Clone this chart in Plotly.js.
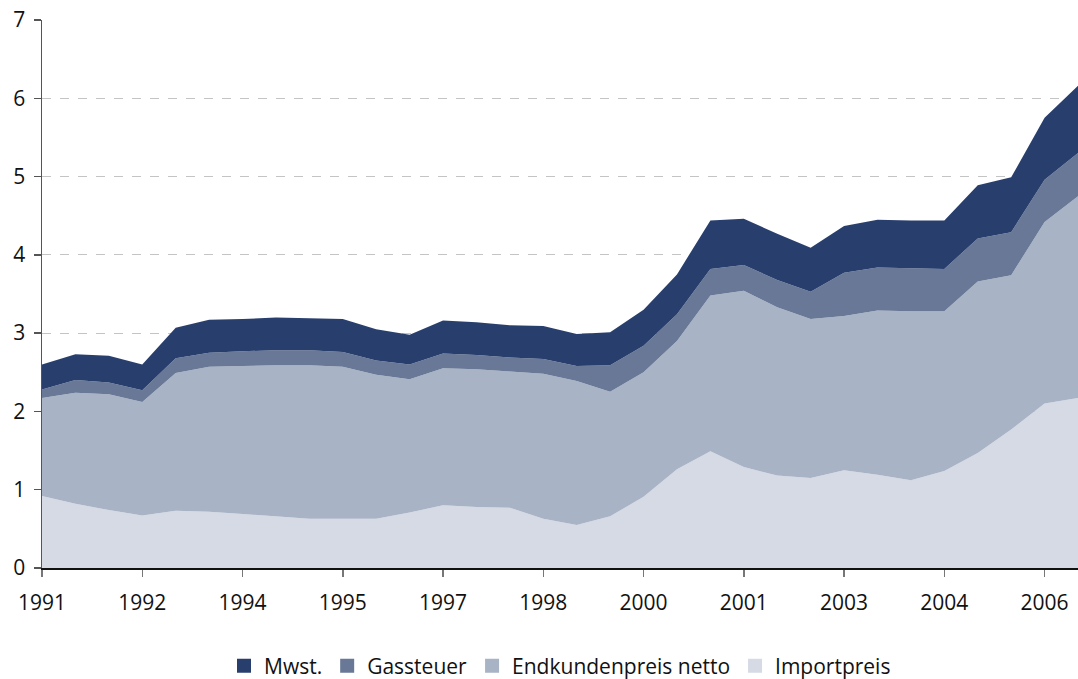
<!DOCTYPE html>
<html>
<head>
<meta charset="utf-8">
<script src="https://cdn.plot.ly/plotly-3.0.1.min.js"></script>
<style>
  body { margin: 0; background: white; }
  #chart { width: 1078px; height: 679px; }
</style>
</head>
<body>
<div id="chart"></div>
<script>
// half-year steps, 1991 .. 2006
var periods = [];
for (var i = 0; i < 32; i++) periods.push(i);

var tickPos = [0, 3, 6, 9, 12, 15, 18, 21, 24, 27, 30];
var tickLabels = ['1991', '1992', '1994', '1995', '1997', '1998', '2000', '2001', '2003', '2004', '2006'];

var importpreis = [0.92, 0.82, 0.74, 0.67, 0.73, 0.72, 0.69, 0.66, 0.63, 0.63, 0.63, 0.71, 0.80, 0.78, 0.77, 0.63,
                   0.55, 0.66, 0.91, 1.26, 1.49, 1.29, 1.18, 1.15, 1.25, 1.19, 1.12, 1.24, 1.47, 1.77, 2.10, 2.17];
var endkundenNetto = [1.25, 1.42, 1.48, 1.45, 1.76, 1.85, 1.89, 1.93, 1.96, 1.94, 1.84, 1.70, 1.75, 1.76, 1.74, 1.85,
                      1.84, 1.59, 1.59, 1.64, 1.99, 2.25, 2.15, 2.03, 1.97, 2.10, 2.16, 2.04, 2.19, 1.97, 2.32, 2.58];
var gassteuer = [0.11, 0.16, 0.15, 0.15, 0.19, 0.18, 0.19, 0.19, 0.19, 0.19, 0.18, 0.19, 0.19, 0.18, 0.18, 0.19,
                 0.19, 0.34, 0.34, 0.34, 0.34, 0.33, 0.35, 0.35, 0.55, 0.55, 0.55, 0.54, 0.55, 0.55, 0.54, 0.55];
var mwst = [0.32, 0.33, 0.34, 0.33, 0.39, 0.42, 0.41, 0.42, 0.41, 0.42, 0.40, 0.38, 0.42, 0.42, 0.41, 0.42,
            0.41, 0.42, 0.46, 0.51, 0.62, 0.59, 0.59, 0.56, 0.60, 0.61, 0.61, 0.62, 0.68, 0.70, 0.79, 0.86];

var series = [
  { name: 'Importpreis', values: importpreis, color: '#d5dae4' },
  { name: 'Endkundenpreis netto', values: endkundenNetto, color: '#a8b3c5' },
  { name: 'Gassteuer', values: gassteuer, color: '#687896' },
  { name: 'Mwst.', values: mwst, color: '#283f6e' }
];

var data = [];
series.forEach(function (s) {
  data.push({
    x: periods,
    y: s.values,
    name: s.name,
    type: 'scatter',
    mode: 'lines',
    stackgroup: 'gas',
    line: { width: 0, color: s.color },
    fillcolor: s.color,
    showlegend: false,
    hoverinfo: 'name+y'
  });
});
// square legend keys
series.forEach(function (s) {
  data.push({
    x: [null],
    y: [null],
    name: s.name,
    type: 'scatter',
    mode: 'markers',
    marker: { symbol: 'square', size: 14, color: s.color },
    showlegend: true
  });
});

var layout = {
  width: 1078,
  height: 679,
  margin: { l: 42, r: 0, t: 20, b: 111, autoexpand: false },
  paper_bgcolor: 'white',
  plot_bgcolor: 'white',
  font: { family: 'Open Sans, Noto Sans, sans-serif', size: 21, color: '#111' },
  showlegend: true,
  legend: {
    orientation: 'h',
    traceorder: 'reversed',
    x: 0.5,
    xanchor: 'center',
    y: -0.179,
    yanchor: 'middle',
    font: { size: 21 },
    itemwidth: 30
  },
  xaxis: {
    range: [0, 31],
    tickvals: tickPos,
    ticktext: tickLabels,
    showgrid: false,
    zeroline: false,
    showline: true,
    linecolor: '#111',
    linewidth: 1.5,
    ticks: 'outside',
    ticklen: 7,
    tickcolor: '#777',
    tickwidth: 1.5,
    ticklabelstandoff: 8,
    automargin: false,
    fixedrange: true
  },
  yaxis: {
    range: [0, 7],
    dtick: 1,
    showgrid: true,
    gridcolor: '#c4c4c4',
    griddash: 'dash',
    gridwidth: 1,
    zeroline: false,
    showline: true,
    linecolor: '#555',
    linewidth: 1.5,
    ticks: 'outside',
    ticklen: 7,
    tickcolor: '#555',
    tickwidth: 1.5,
    ticklabelstandoff: 4,
    automargin: false,
    fixedrange: true
  }
};

Plotly.newPlot('chart', data, layout, { displayModeBar: false, staticPlot: true });
</script>
</body>
</html>
